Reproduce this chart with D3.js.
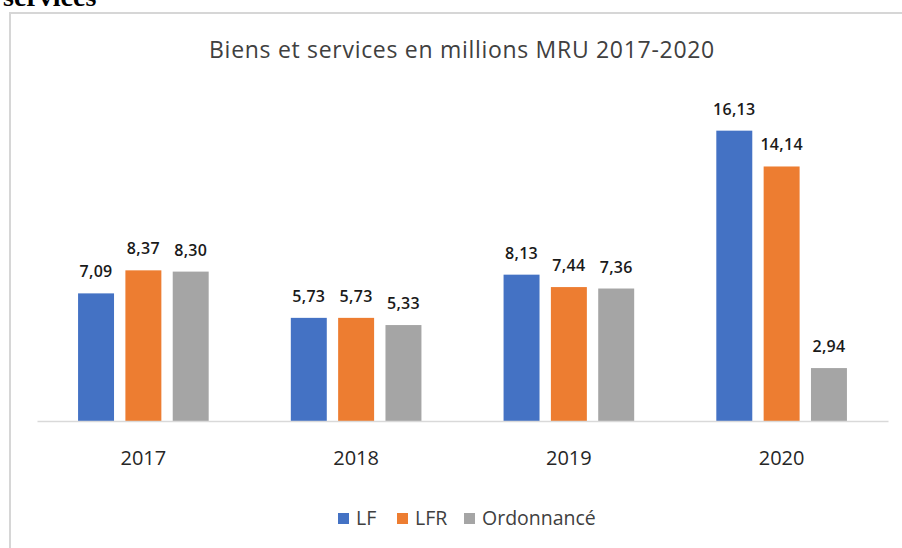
<!DOCTYPE html>
<html>
<head>
<meta charset="utf-8">
<script src="https://d3js.org/d3.v7.min.js"></script>
<style>
body { margin: 0; background: #fff; }
svg text { font-family: "Open Sans", sans-serif; }
</style>
</head>
<body>
<div id="chart"></div>
<script>

// data
var years = ["2017", "2018", "2019", "2020"];
var series = ["LF", "LFR", "Ordonnancé"];
var lf = [7.09, 5.73, 8.13, 16.13];
var lfr = [8.37, 5.73, 7.44, 14.14];
var ordonnance = [8.30, 5.33, 7.36, 2.94];
var colors = ["#4472C4", "#ED7D31", "#A5A5A5"];

var width = 902, height = 548;
var fmt = function(v) { return d3.format(".2f")(v).replace(".", ","); };

var rows = years.map(function(y, i) {
  return { year: y, values: [lf[i], lfr[i], ordonnance[i]] };
});

var svg = d3.select("#chart").append("svg")
  .attr("width", width)
  .attr("height", height);

// heading from the page above, cut off like in the screenshot
svg.append("text")
  .attr("x", 3)
  .attr("y", 6)
  .style("font-family", "'Liberation Serif', 'Times New Roman', serif")
  .style("font-weight", "bold")
  .style("font-size", "28px")
  .attr("fill", "#000")
  .text("services");

// chart frame
svg.append("rect")
  .attr("x", 10)
  .attr("y", 13)
  .attr("width", 900)
  .attr("height", 560)
  .attr("fill", "none")
  .attr("stroke", "#d6d6d6")
  .attr("stroke-width", 2);

svg.append("text")
  .attr("x", 462)
  .attr("y", 58)
  .attr("text-anchor", "middle")
  .attr("fill", "#404040")
  .style("font-size", "23px")
  .style("letter-spacing", "0.7px")
  .text("Biens et services en millions MRU 2017-2020");

var x0 = d3.scaleBand()
  .domain(years)
  .range([37, 888])
  .padding(0);

var groupW = x0.bandwidth() * 0.614;
var x1 = d3.scaleBand()
  .domain(series)
  .range([0, groupW])
  .paddingInner(0.24)
  .paddingOuter(0);

var y = d3.scaleLinear()
  .domain([0, 18])
  .range([421, 97]);

var groups = svg.append("g").selectAll("g")
  .data(rows)
  .join("g")
  .attr("transform", function(d) {
    return "translate(" + (x0(d.year) + (x0.bandwidth() - groupW) / 2) + ",0)";
  });

groups.selectAll("rect")
  .data(function(d) { return d.values.map(function(v, i) { return { s: series[i], v: v, c: colors[i] }; }); })
  .join("rect")
  .attr("x", function(d) { return x1(d.s); })
  .attr("y", function(d) { return y(d.v); })
  .attr("width", x1.bandwidth())
  .attr("height", function(d) { return y(0) - y(d.v); })
  .attr("fill", function(d) { return d.c; });

groups.selectAll("text")
  .data(function(d) { return d.values.map(function(v, i) { return { s: series[i], v: v }; }); })
  .join("text")
  .attr("x", function(d) { return x1(d.s) + x1.bandwidth() / 2; })
  .attr("y", function(d) { return y(d.v) - 16; })
  .attr("text-anchor", "middle")
  .attr("fill", "#1a1a1a")
  .style("font-size", "16px")
  .style("font-weight", "600")
  .style("letter-spacing", "0.3px")
  .text(function(d) { return fmt(d.v); });

// category axis
var xAxis = svg.append("g")
  .attr("transform", "translate(0,421)")
  .call(d3.axisBottom(x0).tickSize(0).tickPadding(30));
xAxis.select(".domain").attr("stroke", "#d9d9d9").attr("stroke-width", 1.5);
xAxis.selectAll("text")
  .attr("fill", "#262626")
  .style("font-family", "'Open Sans', sans-serif")
  .style("font-size", "20px");

// legend
var legendX = [338, 397, 464];
var legend = svg.append("g").selectAll("g")
  .data(series)
  .join("g")
  .attr("transform", function(d, i) { return "translate(" + legendX[i] + ",513)"; });
legend.append("rect")
  .attr("width", 11)
  .attr("height", 11)
  .attr("fill", function(d, i) { return colors[i]; });
legend.append("text")
  .attr("x", 18)
  .attr("y", 12)
  .attr("fill", "#404040")
  .style("font-size", "19.5px")
  .text(function(d) { return d; });

</script>
</body>
</html>
